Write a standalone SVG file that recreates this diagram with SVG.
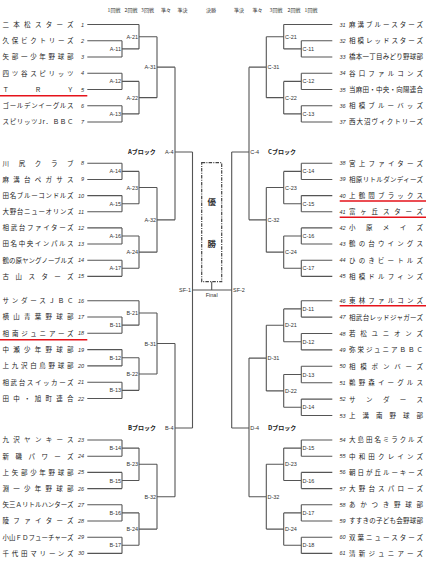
<svg xmlns="http://www.w3.org/2000/svg" width="426" height="568" viewBox="0 0 426 568">
<style>
.ln{stroke:#555;stroke-width:1.1;fill:none}
.rd{stroke:#e5131b;stroke-width:1.6;fill:none}
.tm{font-family:"Noto Sans CJK JP","Noto Sans CJK SC",sans-serif;font-size:6.5px;fill:#222}
.no{font-family:"Liberation Sans",sans-serif;font-style:italic;font-size:5.5px;fill:#333}
.nl{text-anchor:end}
.lb{font-family:"Liberation Sans",sans-serif;font-size:5.5px;fill:#333}
.le{text-anchor:end}
.hd{font-family:"Noto Sans CJK JP",sans-serif;font-size:5px;fill:#333;text-anchor:middle}
.bk{font-family:"Noto Sans CJK JP",sans-serif;font-size:6px;font-weight:bold;fill:#222}
.vc{font-family:"Noto Sans CJK JP",sans-serif;font-size:8.5px;font-weight:bold;fill:#333;text-anchor:middle}
.box{fill:none;stroke:#444;stroke-width:1.2;stroke-dasharray:3.5 1.2 1 1.2}
</style>
<rect width="426" height="568" fill="#fff"/>
<g id="header">
<text class="hd" x="114" y="11.7">1回戦</text>
<text class="hd" x="131" y="11.7">2回戦</text>
<text class="hd" x="147.5" y="11.7">3回戦</text>
<text class="hd" x="166" y="11.7">準々</text>
<text class="hd" x="182.5" y="11.7">準決</text>
<text class="hd" x="211" y="11.7">決勝</text>
<text class="hd" x="239" y="11.7">準決</text>
<text class="hd" x="257.5" y="11.7">準々</text>
<text class="hd" x="276" y="11.7">3回戦</text>
<text class="hd" x="294" y="11.7">2回戦</text>
<text class="hd" x="311" y="11.7">1回戦</text>
</g>
<g id="connectors">
<path class="ln" d="M87.3 24.5H139M87.3 40.75H122M87.3 57H122M87.3 73.25H122M87.3 89.5H122M87.3 105.75H122M87.3 122H122M87.3 163.3H122M87.3 179.45H122M87.3 195.6H122M87.3 211.75H122M87.3 227.9H122M87.3 244.05H122M87.3 260.2H122M87.3 276.35H122M87.3 300.7H139M87.3 317H122M87.3 333.3H122M87.3 349.6H122M87.3 365.9H122M87.3 382.2H122M87.3 398.5H122M87.3 440H122M87.3 456.2H122M87.3 472.4H122M87.3 488.6H122M87.3 504.8H122M87.3 521H122M87.3 537.2H122M87.3 553.4H122"/>
<path class="ln" d="M332.3 24.5H283.7M332.3 40.75H301.3M332.3 57H301.3M332.3 73.25H301.3M332.3 89.5H301.3M332.3 105.75H301.3M332.3 122H301.3M332.3 163.3H301.3M332.3 179.45H301.3M332.3 195.6H301.3M332.3 211.75H301.3M332.3 227.9H301.3M332.3 244.05H301.3M332.3 260.2H301.3M332.3 276.35H301.3M332.3 300.7H301.3M332.3 317.1H301.3M332.3 333.5H301.3M332.3 349.9H301.3M332.3 366.3H301.3M332.3 382.7H301.3M332.3 399.1H301.3M332.3 415.5H301.3M332.3 440H301.3M332.3 456.2H301.3M332.3 472.4H301.3M332.3 488.6H301.3M332.3 504.8H301.3M332.3 521H301.3M332.3 537.2H301.3M332.3 553.4H301.3"/>
<path class="ln" d="M122 40.75V57M122 48.875H139M122 73.25V89.5M122 81.375H139M122 105.75V122M122 113.875H139M139 24.5V48.875M139 36.69H157M139 81.375V113.875M139 97.625H157M157 36.69V97.625M157 67.16H175"/>
<path class="ln" d="M122 163.3V179.45M122 171.375H139M122 195.6V211.75M122 203.675H139M122 227.9V244.05M122 235.975H139M122 260.2V276.35M122 268.275H139M139 171.375V203.675M139 187.525H157M139 235.975V268.275M139 252.125H157M157 187.525V252.125M157 219.825H175M175 67.16V219.825M175 152H192.5"/>
<path class="ln" d="M122 317V333.3M122 325.15H139M122 349.6V365.9M122 357.75H139M122 382.2V398.5M122 390.35H139M139 300.7V325.15M139 312.925H157M139 357.75V390.35M139 374.05H157M157 312.925V374.05M157 343.49H175"/>
<path class="ln" d="M122 440V456.2M122 448.1H139M122 472.4V488.6M122 480.5H139M122 504.8V521M122 512.9H139M122 537.2V553.4M122 545.3H139M139 448.1V480.5M139 464.3H157M139 512.9V545.3M139 529.1H157M157 464.3V529.1M157 496.7H175M175 343.49V496.7M175 428H192.5"/>
<path class="ln" d="M301.3 40.75V57M301.3 48.875H283.7M301.3 73.25V89.5M301.3 81.375H283.7M301.3 105.75V122M301.3 113.875H283.7M283.7 24.5V48.875M283.7 36.69H266.3M283.7 81.375V113.875M283.7 97.625H266.3M266.3 36.69V97.625M266.3 67.16H249"/>
<path class="ln" d="M301.3 163.3V179.45M301.3 171.375H283.7M301.3 195.6V211.75M301.3 203.675H283.7M301.3 227.9V244.05M301.3 235.975H283.7M301.3 260.2V276.35M301.3 268.275H283.7M283.7 171.375V203.675M283.7 187.525H266.3M283.7 235.975V268.275M283.7 252.125H266.3M266.3 187.525V252.125M266.3 219.825H249M249 67.16V219.825M249 152H231.7"/>
<path class="ln" d="M301.3 300.7V317.1M301.3 308.9H283.7M301.3 333.5V349.9M301.3 341.7H283.7M301.3 366.3V382.7M301.3 374.5H283.7M301.3 399.1V415.5M301.3 407.3H283.7M283.7 308.9V341.7M283.7 325.3H266.3M283.7 374.5V407.3M283.7 390.9H266.3M266.3 325.3V390.9M266.3 358.1H249"/>
<path class="ln" d="M301.3 440V456.2M301.3 448.1H283.7M301.3 472.4V488.6M301.3 480.5H283.7M301.3 504.8V521M301.3 512.9H283.7M301.3 537.2V553.4M301.3 545.3H283.7M283.7 448.1V480.5M283.7 464.3H266.3M283.7 512.9V545.3M283.7 529.1H266.3M266.3 464.3V529.1M266.3 496.7H249M249 358.1V496.7M249 428H231.7"/>
<path class="ln" d="M192.5 152V428M231.7 152V428M192.5 290H231.7M211.7 290V281.7"/>
</g>
<g id="highlights">
<path class="rd" d="M0 95.8H87.3M0 339.7H87.3M339.7 201H426M339.7 217.3H426M339.7 305.8H426"/>
</g>
<g id="champion">
<rect class="box" x="201.7" y="162.7" width="20" height="119"/>
<text class="vc" x="211.7" y="204.7">優</text>
<text class="vc" x="211.7" y="247">勝</text>
<text class="lb" x="211.7" y="296.5" text-anchor="middle" font-size="5">Final</text>
</g>
<g id="blocks">
<text class="bk" x="128" y="154">Aブロック</text>
<text class="bk" x="128" y="430">Bブロック</text>
<text class="bk" x="268" y="154">Cブロック</text>
<text class="bk" x="268" y="430">Dブロック</text>
</g>
<g id="matches">
<g id="m-A-11"><text class="lb le" x="121" y="50.9">A-11</text></g>
<g id="m-A-12"><text class="lb le" x="121" y="83.4">A-12</text></g>
<g id="m-A-13"><text class="lb le" x="121" y="115.9">A-13</text></g>
<g id="m-A-14"><text class="lb le" x="121" y="173.4">A-14</text></g>
<g id="m-A-15"><text class="lb le" x="121" y="205.7">A-15</text></g>
<g id="m-A-16"><text class="lb le" x="121" y="238">A-16</text></g>
<g id="m-A-17"><text class="lb le" x="121" y="270.3">A-17</text></g>
<g id="m-A-21"><text class="lb le" x="138" y="38.7">A-21</text></g>
<g id="m-A-22"><text class="lb le" x="138" y="99.6">A-22</text></g>
<g id="m-A-23"><text class="lb le" x="138" y="189.5">A-23</text></g>
<g id="m-A-24"><text class="lb le" x="138" y="254.1">A-24</text></g>
<g id="m-A-31"><text class="lb le" x="156" y="69.2">A-31</text></g>
<g id="m-A-32"><text class="lb le" x="156" y="221.8">A-32</text></g>
<g id="m-A-4"><text class="lb le" x="173.5" y="154">A-4</text></g>
<g id="m-B-11"><text class="lb le" x="121" y="327.2">B-11</text></g>
<g id="m-B-12"><text class="lb le" x="121" y="359.8">B-12</text></g>
<g id="m-B-13"><text class="lb le" x="121" y="392.4">B-13</text></g>
<g id="m-B-14"><text class="lb le" x="121" y="450.1">B-14</text></g>
<g id="m-B-15"><text class="lb le" x="121" y="482.5">B-15</text></g>
<g id="m-B-16"><text class="lb le" x="121" y="514.9">B-16</text></g>
<g id="m-B-17"><text class="lb le" x="121" y="547.3">B-17</text></g>
<g id="m-B-21"><text class="lb le" x="138" y="314.9">B-21</text></g>
<g id="m-B-22"><text class="lb le" x="138" y="376">B-22</text></g>
<g id="m-B-23"><text class="lb le" x="138" y="466.3">B-23</text></g>
<g id="m-B-24"><text class="lb le" x="138" y="531.1">B-24</text></g>
<g id="m-B-31"><text class="lb le" x="156" y="345.5">B-31</text></g>
<g id="m-B-32"><text class="lb le" x="156" y="498.7">B-32</text></g>
<g id="m-B-4"><text class="lb le" x="173.5" y="430">B-4</text></g>
<g id="m-SF-1"><text class="lb le" x="191" y="292">SF-1</text></g>
<g id="m-SF-2"><text class="lb" x="233" y="292">SF-2</text></g>
<g id="m-C-11"><text class="lb" x="302.5" y="50.9">C-11</text></g>
<g id="m-C-12"><text class="lb" x="302.5" y="83.4">C-12</text></g>
<g id="m-C-13"><text class="lb" x="302.5" y="115.9">C-13</text></g>
<g id="m-C-14"><text class="lb" x="302.5" y="173.4">C-14</text></g>
<g id="m-C-15"><text class="lb" x="302.5" y="205.7">C-15</text></g>
<g id="m-C-16"><text class="lb" x="302.5" y="238">C-16</text></g>
<g id="m-C-17"><text class="lb" x="302.5" y="270.3">C-17</text></g>
<g id="m-C-21"><text class="lb" x="285" y="38.7">C-21</text></g>
<g id="m-C-22"><text class="lb" x="285" y="99.6">C-22</text></g>
<g id="m-C-23"><text class="lb" x="285" y="189.5">C-23</text></g>
<g id="m-C-24"><text class="lb" x="285" y="254.1">C-24</text></g>
<g id="m-C-31"><text class="lb" x="267.5" y="69.2">C-31</text></g>
<g id="m-C-32"><text class="lb" x="267.5" y="221.8">C-32</text></g>
<g id="m-C-4"><text class="lb" x="250.3" y="154">C-4</text></g>
<g id="m-D-11"><text class="lb" x="302.5" y="310.9">D-11</text></g>
<g id="m-D-12"><text class="lb" x="302.5" y="343.7">D-12</text></g>
<g id="m-D-13"><text class="lb" x="302.5" y="376.5">D-13</text></g>
<g id="m-D-14"><text class="lb" x="302.5" y="409.3">D-14</text></g>
<g id="m-D-15"><text class="lb" x="302.5" y="450.1">D-15</text></g>
<g id="m-D-16"><text class="lb" x="302.5" y="482.5">D-16</text></g>
<g id="m-D-17"><text class="lb" x="302.5" y="514.9">D-17</text></g>
<g id="m-D-18"><text class="lb" x="302.5" y="547.3">D-18</text></g>
<g id="m-D-21"><text class="lb" x="285" y="327.3">D-21</text></g>
<g id="m-D-22"><text class="lb" x="285" y="392.9">D-22</text></g>
<g id="m-D-23"><text class="lb" x="285" y="466.3">D-23</text></g>
<g id="m-D-24"><text class="lb" x="285" y="531.1">D-24</text></g>
<g id="m-D-31"><text class="lb" x="267.5" y="360.1">D-31</text></g>
<g id="m-D-32"><text class="lb" x="267.5" y="498.7">D-32</text></g>
<g id="m-D-4"><text class="lb" x="250.3" y="430">D-4</text></g>
</g>
<g id="teams-left">
<g id="t1"><text class="tm" x="2.5" y="26.9" textLength="71" lengthAdjust="spacing">二本松スターズ</text><text class="no nl" x="84" y="26.5">1</text></g>
<g id="t2"><text class="tm" x="2.5" y="43.15" textLength="71" lengthAdjust="spacing">久保ビクトリーズ</text><text class="no nl" x="84" y="42.75">2</text></g>
<g id="t3"><text class="tm" x="2.5" y="59.4" textLength="71" lengthAdjust="spacing">矢部一少年野球部</text><text class="no nl" x="84" y="59">3</text></g>
<g id="t4"><text class="tm" x="2.5" y="75.65" textLength="71" lengthAdjust="spacing">四ツ谷スピリッツ</text><text class="no nl" x="84" y="75.25">4</text></g>
<g id="t5"><text class="tm" x="2.5" y="91.9" textLength="71" lengthAdjust="spacing">ＴＲＹ</text><text class="no nl" x="84" y="91.5">5</text></g>
<g id="t6"><text class="tm" x="2.5" y="108.15" textLength="71" lengthAdjust="spacing">ゴールデンイーグルス</text><text class="no nl" x="84" y="107.75">6</text></g>
<g id="t7"><text class="tm" x="2.5" y="124.4" textLength="71" lengthAdjust="spacing">スピリッツJr．ＢＢＣ</text><text class="no nl" x="84" y="124">7</text></g>
<g id="t8"><text class="tm" x="2.5" y="165.7" textLength="71" lengthAdjust="spacing">川尻クラブ</text><text class="no nl" x="84" y="165.3">8</text></g>
<g id="t9"><text class="tm" x="2.5" y="181.85" textLength="71" lengthAdjust="spacing">麻溝台ペガサス</text><text class="no nl" x="84" y="181.45">9</text></g>
<g id="t10"><text class="tm" x="2.5" y="198" textLength="71" lengthAdjust="spacing">田名ブルーコンドルズ</text><text class="no nl" x="84" y="197.6">10</text></g>
<g id="t11"><text class="tm" x="2.5" y="214.15" textLength="71" lengthAdjust="spacing">大野台ニューオリンズ</text><text class="no nl" x="84" y="213.75">11</text></g>
<g id="t12"><text class="tm" x="2.5" y="230.3" textLength="71" lengthAdjust="spacing">相武台ファイターズ</text><text class="no nl" x="84" y="229.9">12</text></g>
<g id="t13"><text class="tm" x="2.5" y="246.45" textLength="71" lengthAdjust="spacing">田名中央インパルス</text><text class="no nl" x="84" y="246.05">13</text></g>
<g id="t14"><text class="tm" x="2.5" y="262.6" textLength="71" lengthAdjust="spacing">鶴の原ヤングノーブルズ</text><text class="no nl" x="84" y="262.2">14</text></g>
<g id="t15"><text class="tm" x="2.5" y="278.75" textLength="71" lengthAdjust="spacing">古山スターズ</text><text class="no nl" x="84" y="278.35">15</text></g>
<g id="t16"><text class="tm" x="2.5" y="303.1" textLength="71" lengthAdjust="spacing">サンダースＪＢＣ</text><text class="no nl" x="84" y="302.7">16</text></g>
<g id="t17"><text class="tm" x="2.5" y="319.4" textLength="71" lengthAdjust="spacing">横山青葉野球部</text><text class="no nl" x="84" y="319">17</text></g>
<g id="t18"><text class="tm" x="2.5" y="335.7" textLength="71" lengthAdjust="spacing">相南ジュニアーズ</text><text class="no nl" x="84" y="335.3">18</text></g>
<g id="t19"><text class="tm" x="2.5" y="352" textLength="71" lengthAdjust="spacing">中瀬少年野球部</text><text class="no nl" x="84" y="351.6">19</text></g>
<g id="t20"><text class="tm" x="2.5" y="368.3" textLength="71" lengthAdjust="spacing">上九沢白鳥野球部</text><text class="no nl" x="84" y="367.9">20</text></g>
<g id="t21"><text class="tm" x="2.5" y="384.6" textLength="71" lengthAdjust="spacing">相武台スイッカーズ</text><text class="no nl" x="84" y="384.2">21</text></g>
<g id="t22"><text class="tm" x="2.5" y="400.9" textLength="71" lengthAdjust="spacing">田中・旭町連合</text><text class="no nl" x="84" y="400.5">22</text></g>
<g id="t23"><text class="tm" x="2.5" y="442.4" textLength="71" lengthAdjust="spacing">九沢ヤンキース</text><text class="no nl" x="84" y="442">23</text></g>
<g id="t24"><text class="tm" x="2.5" y="458.6" textLength="71" lengthAdjust="spacing">新磯パワーズ</text><text class="no nl" x="84" y="458.2">24</text></g>
<g id="t25"><text class="tm" x="2.5" y="474.8" textLength="71" lengthAdjust="spacing">上矢部少年野球部</text><text class="no nl" x="84" y="474.4">25</text></g>
<g id="t26"><text class="tm" x="2.5" y="491" textLength="71" lengthAdjust="spacing">淵一少年野球部</text><text class="no nl" x="84" y="490.6">26</text></g>
<g id="t27"><text class="tm" x="2.5" y="507.2" textLength="71" lengthAdjust="spacing">矢三Ａリトルハンターズ</text><text class="no nl" x="84" y="506.8">27</text></g>
<g id="t28"><text class="tm" x="2.5" y="523.4" textLength="71" lengthAdjust="spacing">陵ファイターズ</text><text class="no nl" x="84" y="523">28</text></g>
<g id="t29"><text class="tm" x="2.5" y="539.6" textLength="71" lengthAdjust="spacing">小山ＦＤフューチャーズ</text><text class="no nl" x="84" y="539.2">29</text></g>
<g id="t30"><text class="tm" x="2.5" y="555.8" textLength="71" lengthAdjust="spacing">千代田マリーンズ</text><text class="no nl" x="84" y="555.4">30</text></g>
</g>
<g id="teams-right">
<g id="t31"><text class="no nl" x="345.5" y="26.5">31</text><text class="tm" x="349" y="26.9" textLength="74" lengthAdjust="spacing">麻溝ブルースターズ</text></g>
<g id="t32"><text class="no nl" x="345.5" y="42.75">32</text><text class="tm" x="349" y="43.15" textLength="74" lengthAdjust="spacing">相模レッドスターズ</text></g>
<g id="t33"><text class="no nl" x="345.5" y="59">33</text><text class="tm" x="349" y="59.4" textLength="74" lengthAdjust="spacing">橋本一丁目みどり野球部</text></g>
<g id="t34"><text class="no nl" x="345.5" y="75.25">34</text><text class="tm" x="349" y="75.65" textLength="74" lengthAdjust="spacing">谷口ファルコンズ</text></g>
<g id="t35"><text class="no nl" x="345.5" y="91.5">35</text><text class="tm" x="349" y="91.9" textLength="74" lengthAdjust="spacing">当麻田・中央・向陽連合</text></g>
<g id="t36"><text class="no nl" x="345.5" y="107.75">36</text><text class="tm" x="349" y="108.15" textLength="74" lengthAdjust="spacing">相模ブルーバッズ</text></g>
<g id="t37"><text class="no nl" x="345.5" y="124">37</text><text class="tm" x="349" y="124.4" textLength="74" lengthAdjust="spacing">西大沼ヴィクトリーズ</text></g>
<g id="t38"><text class="no nl" x="345.5" y="165.3">38</text><text class="tm" x="349" y="165.7" textLength="74" lengthAdjust="spacing">宮上ファイターズ</text></g>
<g id="t39"><text class="no nl" x="345.5" y="181.45">39</text><text class="tm" x="349" y="181.85" textLength="74" lengthAdjust="spacing">相原リトルダンディーズ</text></g>
<g id="t40"><text class="no nl" x="345.5" y="197.6">40</text><text class="tm" x="349" y="198" textLength="74" lengthAdjust="spacing">上鶴間ブラックス</text></g>
<g id="t41"><text class="no nl" x="345.5" y="213.75">41</text><text class="tm" x="349" y="214.15" textLength="74" lengthAdjust="spacing">富ヶ丘スターズ</text></g>
<g id="t42"><text class="no nl" x="345.5" y="229.9">42</text><text class="tm" x="349" y="230.3" textLength="74" lengthAdjust="spacing">小原メイズ</text></g>
<g id="t43"><text class="no nl" x="345.5" y="246.05">43</text><text class="tm" x="349" y="246.45" textLength="74" lengthAdjust="spacing">鶴の台ウイングス</text></g>
<g id="t44"><text class="no nl" x="345.5" y="262.2">44</text><text class="tm" x="349" y="262.6" textLength="74" lengthAdjust="spacing">ひのきビートルズ</text></g>
<g id="t45"><text class="no nl" x="345.5" y="278.35">45</text><text class="tm" x="349" y="278.75" textLength="74" lengthAdjust="spacing">相模ドルフィンズ</text></g>
<g id="t46"><text class="no nl" x="345.5" y="302.7">46</text><text class="tm" x="349" y="303.1" textLength="74" lengthAdjust="spacing">東林ファルコンズ</text></g>
<g id="t47"><text class="no nl" x="345.5" y="319.1">47</text><text class="tm" x="349" y="319.5" textLength="74" lengthAdjust="spacing">相武台レッドジャガーズ</text></g>
<g id="t48"><text class="no nl" x="345.5" y="335.5">48</text><text class="tm" x="349" y="335.9" textLength="74" lengthAdjust="spacing">若松ユニオンズ</text></g>
<g id="t49"><text class="no nl" x="345.5" y="351.9">49</text><text class="tm" x="349" y="352.3" textLength="74" lengthAdjust="spacing">弥栄ジュニアＢＢＣ</text></g>
<g id="t50"><text class="no nl" x="345.5" y="368.3">50</text><text class="tm" x="349" y="368.7" textLength="74" lengthAdjust="spacing">相模ボンバーズ</text></g>
<g id="t51"><text class="no nl" x="345.5" y="384.7">51</text><text class="tm" x="349" y="385.1" textLength="74" lengthAdjust="spacing">鵜野森イーグルス</text></g>
<g id="t52"><text class="no nl" x="345.5" y="401.1">52</text><text class="tm" x="349" y="401.5" textLength="74" lengthAdjust="spacing">サンダース</text></g>
<g id="t53"><text class="no nl" x="345.5" y="417.5">53</text><text class="tm" x="349" y="417.9" textLength="74" lengthAdjust="spacing">上溝南野球部</text></g>
<g id="t54"><text class="no nl" x="345.5" y="442">54</text><text class="tm" x="349" y="442.4" textLength="74" lengthAdjust="spacing">大島田名ミラクルズ</text></g>
<g id="t55"><text class="no nl" x="345.5" y="458.2">55</text><text class="tm" x="349" y="458.6" textLength="74" lengthAdjust="spacing">中和田クレインズ</text></g>
<g id="t56"><text class="no nl" x="345.5" y="474.4">56</text><text class="tm" x="349" y="474.8" textLength="74" lengthAdjust="spacing">朝日が丘ルーキーズ</text></g>
<g id="t57"><text class="no nl" x="345.5" y="490.6">57</text><text class="tm" x="349" y="491" textLength="74" lengthAdjust="spacing">大野台スパローズ</text></g>
<g id="t58"><text class="no nl" x="345.5" y="506.8">58</text><text class="tm" x="349" y="507.2" textLength="74" lengthAdjust="spacing">あかつき野球部</text></g>
<g id="t59"><text class="no nl" x="345.5" y="523">59</text><text class="tm" x="349" y="523.4" textLength="74" lengthAdjust="spacing">すすきの子ども会野球部</text></g>
<g id="t60"><text class="no nl" x="345.5" y="539.2">60</text><text class="tm" x="349" y="539.6" textLength="74" lengthAdjust="spacing">双葉ニュースターズ</text></g>
<g id="t61"><text class="no nl" x="345.5" y="555.4">61</text><text class="tm" x="349" y="555.8" textLength="74" lengthAdjust="spacing">清新ジュニアーズ</text></g>
</g>
</svg>
